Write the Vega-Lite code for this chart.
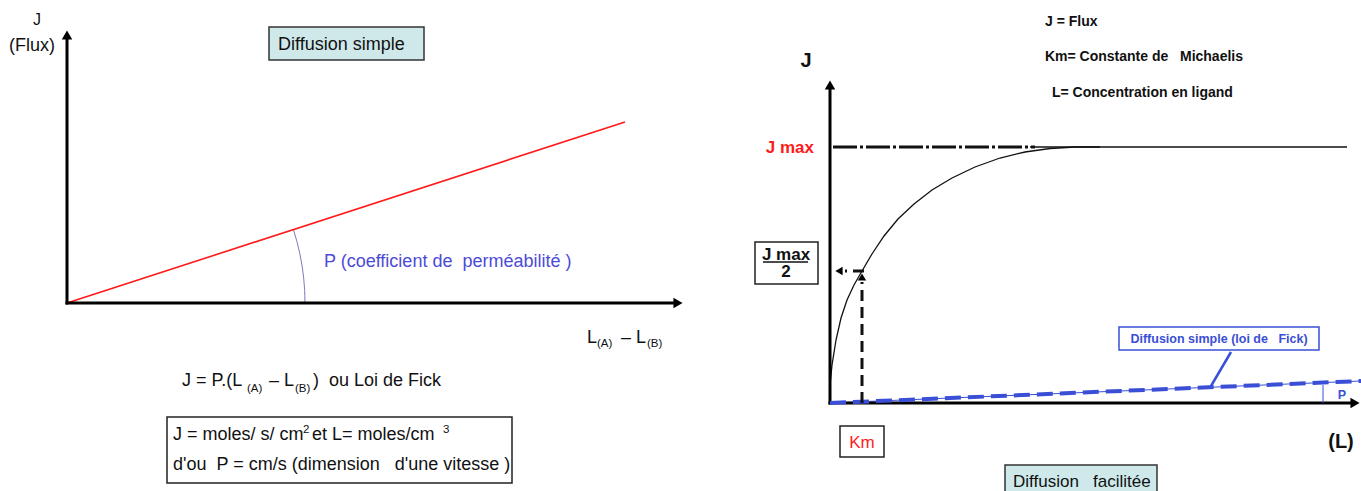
{
  "$schema": "https://vega.github.io/schema/vega-lite/v6.json",
  "width": 1361,
  "height": 491,
  "autosize": "none",
  "padding": 0,
  "background": "white",
  "config": {"view": {"stroke": null}, "text": {"font": "Liberation Sans"}},
  "datasets": {
    "segments": [
      {"kind": "axis", "x": 67, "y": 304.5, "x2": 67, "y2": 38},
      {"kind": "axis", "x": 65.5, "y": 303, "x2": 676, "y2": 303},
      {"kind": "axis", "x": 830, "y": 404.5, "x2": 830, "y2": 88},
      {"kind": "axis", "x": 828.5, "y": 403, "x2": 1352, "y2": 403},
      {"kind": "red", "x": 67, "y": 303, "x2": 625, "y2": 122},
      {"kind": "jmaxSolid", "x": 1030, "y": 147, "x2": 1347, "y2": 147},
      {"kind": "jmaxDash", "x": 833, "y": 147, "x2": 1035, "y2": 147},
      {"kind": "kmDash", "x": 862, "y": 403, "x2": 862, "y2": 282},
      {"kind": "halfDash", "x": 864, "y": 271, "x2": 845, "y2": 271},
      {"kind": "fickThin", "x": 830, "y": 403, "x2": 1361, "y2": 381},
      {"kind": "fickDash", "x": 830, "y": 403, "x2": 1361, "y2": 381},
      {"kind": "fickPointer", "x": 1231, "y": 352, "x2": 1211, "y2": 386},
      {"kind": "pTick", "x": 1323, "y": 385, "x2": 1323, "y2": 403},
      {"kind": "underline", "x": 763, "y": 262, "x2": 808, "y2": 262}
    ],
    "heads": [
      {"kind": "up", "x": 67, "y": 35},
      {"kind": "right", "x": 678, "y": 303},
      {"kind": "up", "x": 830, "y": 85},
      {"kind": "right", "x": 1355, "y": 403},
      {"kind": "upSmall", "x": 862, "y": 277},
      {"kind": "leftSmall", "x": 839, "y": 271}
    ],
    "boxes": [
      {"kind": "cyan", "x": 269, "y": 27, "x2": 424, "y2": 60},
      {"kind": "cyan", "x": 1005, "y": 465, "x2": 1157, "y2": 500},
      {"kind": "white", "x": 167, "y": 417, "x2": 512, "y2": 483},
      {"kind": "white", "x": 755, "y": 242, "x2": 818, "y2": 284},
      {"kind": "white", "x": 840, "y": 426, "x2": 884, "y2": 457},
      {"kind": "blue", "x": 1119, "y": 327, "x2": 1319, "y2": 350}
    ],
    "curves": [
      {"id": "arc", "i": 0, "x": 305, "y": 303},
      {"id": "arc", "i": 1, "x": 304.7, "y": 290.5},
      {"id": "arc", "i": 2, "x": 303.7, "y": 278.1},
      {"id": "arc", "i": 3, "x": 302.1, "y": 265.8},
      {"id": "arc", "i": 4, "x": 299.8, "y": 253.5},
      {"id": "arc", "i": 5, "x": 296.9, "y": 241.4},
      {"id": "arc", "i": 6, "x": 293.4, "y": 229.5},
      {"id": "mm", "i": 0, "x": 830, "y": 385},
      {"id": "mm", "i": 1, "x": 832, "y": 365},
      {"id": "mm", "i": 2, "x": 836, "y": 340},
      {"id": "mm", "i": 3, "x": 841, "y": 318},
      {"id": "mm", "i": 4, "x": 847, "y": 300},
      {"id": "mm", "i": 5, "x": 854, "y": 285},
      {"id": "mm", "i": 6, "x": 862, "y": 271},
      {"id": "mm", "i": 7, "x": 872, "y": 254},
      {"id": "mm", "i": 8, "x": 884, "y": 236},
      {"id": "mm", "i": 9, "x": 898, "y": 219},
      {"id": "mm", "i": 10, "x": 914, "y": 204},
      {"id": "mm", "i": 11, "x": 932, "y": 190},
      {"id": "mm", "i": 12, "x": 952, "y": 178},
      {"id": "mm", "i": 13, "x": 975, "y": 167},
      {"id": "mm", "i": 14, "x": 1000, "y": 158},
      {"id": "mm", "i": 15, "x": 1025, "y": 152},
      {"id": "mm", "i": 16, "x": 1050, "y": 148.5},
      {"id": "mm", "i": 17, "x": 1075, "y": 147},
      {"id": "mm", "i": 18, "x": 1100, "y": 147}
    ],
    "texts": [
      {"kind": "plain", "label": "(Flux)", "x": 9, "y": 51},
      {"kind": "plain", "label": "Diffusion simple", "x": 278, "y": 50},
      {"kind": "plain", "label": "L", "x": 587, "y": 343},
      {"kind": "plain", "label": "– L", "x": 621, "y": 343},
      {"kind": "plain", "label": "J = P.(L", "x": 182, "y": 386},
      {"kind": "plain", "label": "– L", "x": 269, "y": 386},
      {"kind": "plain", "label": ")\u00a0 ou Loi de Fick", "x": 313, "y": 386},
      {"kind": "plain", "label": "J = moles/ s/ cm", "x": 173, "y": 440},
      {"kind": "plain", "label": "et L= moles/cm", "x": 312, "y": 440},
      {"kind": "plain", "label": "d'ou\u00a0 P = cm/s (dimension\u00a0\u00a0 d'une vitesse )", "x": 173, "y": 470},
      {"kind": "facil", "label": "Diffusion\u00a0\u00a0 facilitée", "x": 1013, "y": 487},
      {"kind": "j", "label": "J", "x": 33, "y": 25},
      {"kind": "small", "label": "(A)", "x": 597, "y": 347},
      {"kind": "small", "label": "(B)", "x": 647, "y": 347},
      {"kind": "small", "label": "(A)", "x": 247, "y": 392},
      {"kind": "small", "label": "(B)", "x": 295, "y": 392},
      {"kind": "small", "label": "2", "x": 303, "y": 433},
      {"kind": "small", "label": "3", "x": 443, "y": 433},
      {"kind": "blue", "label": "P (coefficient de\u00a0 perméabilité )", "x": 324, "y": 267},
      {"kind": "boldSmall", "label": "J = Flux", "x": 1045, "y": 26},
      {"kind": "boldSmall", "label": "Km= Constante de\u00a0\u00a0 Michaelis", "x": 1045, "y": 61},
      {"kind": "boldSmall", "label": "L= Concentration en ligand", "x": 1052, "y": 97},
      {"kind": "boldBig", "label": "J", "x": 806, "y": 67},
      {"kind": "boldBig", "label": "(L)", "x": 1341, "y": 448},
      {"kind": "redBold", "label": "J max", "x": 814, "y": 153},
      {"kind": "half", "label": "J max", "x": 786, "y": 260},
      {"kind": "half", "label": "2", "x": 786, "y": 277},
      {"kind": "km", "label": "Km", "x": 862, "y": 448},
      {"kind": "fick", "label": "Diffusion simple (loi de\u00a0\u00a0 Fick)", "x": 1219, "y": 343},
      {"kind": "fick", "label": "P", "x": 1342, "y": 399}
    ]
  },
  "encoding": {
    "x": {"field": "x", "type": "quantitative", "scale": {"domain": [0, 1361], "nice": false, "zero": false}, "axis": null},
    "y": {"field": "y", "type": "quantitative", "scale": {"domain": [0, 491], "nice": false, "zero": false, "reverse": true}, "axis": null}
  },
  "layer": [
    {
      "data": {"name": "boxes"},
      "transform": [{"filter": "datum.kind === 'cyan'"}],
      "mark": {"type": "rect", "fill": "#cfe9ea", "stroke": "#333333", "strokeWidth": 1.5},
      "encoding": {"x2": {"field": "x2"}, "y2": {"field": "y2"}}
    },
    {
      "data": {"name": "boxes"},
      "transform": [{"filter": "datum.kind === 'white'"}],
      "mark": {"type": "rect", "fill": "white", "stroke": "#222222", "strokeWidth": 1.5},
      "encoding": {"x2": {"field": "x2"}, "y2": {"field": "y2"}}
    },
    {
      "data": {"name": "boxes"},
      "transform": [{"filter": "datum.kind === 'blue'"}],
      "mark": {"type": "rect", "fill": "white", "stroke": "#3a4fd6", "strokeWidth": 1.5},
      "encoding": {"x2": {"field": "x2"}, "y2": {"field": "y2"}}
    },
    {
      "data": {"name": "curves"},
      "transform": [{"filter": "datum.id === 'arc'"}],
      "mark": {"type": "line", "color": "#7b7bb8", "strokeWidth": 1},
      "encoding": {"order": {"field": "i", "type": "quantitative"}}
    },
    {
      "data": {"name": "curves"},
      "transform": [{"filter": "datum.id === 'mm'"}],
      "mark": {"type": "line", "color": "#111111", "strokeWidth": 1.3},
      "encoding": {"order": {"field": "i", "type": "quantitative"}}
    },
    {
      "data": {"name": "segments"},
      "transform": [{"filter": "datum.kind === 'red'"}],
      "mark": {"type": "rule", "color": "#ff1a1a", "strokeWidth": 1.6},
      "encoding": {"x2": {"field": "x2"}, "y2": {"field": "y2"}}
    },
    {
      "data": {"name": "segments"},
      "transform": [{"filter": "datum.kind === 'fickThin'"}],
      "mark": {"type": "rule", "color": "#3a4fd6", "strokeWidth": 1},
      "encoding": {"x2": {"field": "x2"}, "y2": {"field": "y2"}}
    },
    {
      "data": {"name": "segments"},
      "transform": [{"filter": "datum.kind === 'axis'"}],
      "mark": {"type": "rule", "color": "black", "strokeWidth": 3},
      "encoding": {"x2": {"field": "x2"}, "y2": {"field": "y2"}}
    },
    {
      "data": {"name": "segments"},
      "transform": [{"filter": "datum.kind === 'fickDash'"}],
      "mark": {"type": "rule", "color": "#3a4fd6", "strokeWidth": 4, "strokeDash": [16, 7]},
      "encoding": {"x2": {"field": "x2"}, "y2": {"field": "y2"}}
    },
    {
      "data": {"name": "segments"},
      "transform": [{"filter": "datum.kind === 'fickPointer'"}],
      "mark": {"type": "rule", "color": "#3a4fd6", "strokeWidth": 2.5},
      "encoding": {"x2": {"field": "x2"}, "y2": {"field": "y2"}}
    },
    {
      "data": {"name": "segments"},
      "transform": [{"filter": "datum.kind === 'pTick'"}],
      "mark": {"type": "rule", "color": "#3a4fd6", "strokeWidth": 1},
      "encoding": {"x2": {"field": "x2"}, "y2": {"field": "y2"}}
    },
    {
      "data": {"name": "segments"},
      "transform": [{"filter": "datum.kind === 'jmaxSolid'"}],
      "mark": {"type": "rule", "color": "#111111", "strokeWidth": 1.5},
      "encoding": {"x2": {"field": "x2"}, "y2": {"field": "y2"}}
    },
    {
      "data": {"name": "segments"},
      "transform": [{"filter": "datum.kind === 'jmaxDash'"}],
      "mark": {"type": "rule", "color": "#111111", "strokeWidth": 3, "strokeDash": [24, 3, 3, 3]},
      "encoding": {"x2": {"field": "x2"}, "y2": {"field": "y2"}}
    },
    {
      "data": {"name": "segments"},
      "transform": [{"filter": "datum.kind === 'kmDash' || datum.kind === 'halfDash'"}],
      "mark": {"type": "rule", "color": "#111111", "strokeWidth": 3, "strokeDash": [11, 6]},
      "encoding": {"x2": {"field": "x2"}, "y2": {"field": "y2"}}
    },
    {
      "data": {"name": "segments"},
      "transform": [{"filter": "datum.kind === 'underline'"}],
      "mark": {"type": "rule", "color": "#111111", "strokeWidth": 1.5},
      "encoding": {"x2": {"field": "x2"}, "y2": {"field": "y2"}}
    },
    {
      "data": {"name": "heads"},
      "transform": [{"filter": "datum.kind === 'up'"}],
      "mark": {"type": "point", "shape": "triangle-up", "filled": true, "color": "black", "opacity": 1, "size": 110}
    },
    {
      "data": {"name": "heads"},
      "transform": [{"filter": "datum.kind === 'right'"}],
      "mark": {"type": "point", "shape": "triangle-right", "filled": true, "color": "black", "opacity": 1, "size": 110}
    },
    {
      "data": {"name": "heads"},
      "transform": [{"filter": "datum.kind === 'upSmall'"}],
      "mark": {"type": "point", "shape": "triangle-up", "filled": true, "color": "black", "opacity": 1, "size": 70}
    },
    {
      "data": {"name": "heads"},
      "transform": [{"filter": "datum.kind === 'leftSmall'"}],
      "mark": {"type": "point", "shape": "triangle-left", "filled": true, "color": "black", "opacity": 1, "size": 70}
    },
    {
      "data": {"name": "texts"},
      "transform": [{"filter": "datum.kind === 'plain'"}],
      "mark": {"type": "text", "align": "left", "baseline": "alphabetic", "fontSize": 18, "color": "#111111"},
      "encoding": {"text": {"field": "label"}}
    },
    {
      "data": {"name": "texts"},
      "transform": [{"filter": "datum.kind === 'facil'"}],
      "mark": {"type": "text", "align": "left", "baseline": "alphabetic", "fontSize": 17, "color": "#111111"},
      "encoding": {"text": {"field": "label"}}
    },
    {
      "data": {"name": "texts"},
      "transform": [{"filter": "datum.kind === 'j'"}],
      "mark": {"type": "text", "align": "left", "baseline": "alphabetic", "fontSize": 16, "color": "#111111"},
      "encoding": {"text": {"field": "label"}}
    },
    {
      "data": {"name": "texts"},
      "transform": [{"filter": "datum.kind === 'small'"}],
      "mark": {"type": "text", "align": "left", "baseline": "alphabetic", "fontSize": 11.5, "color": "#111111"},
      "encoding": {"text": {"field": "label"}}
    },
    {
      "data": {"name": "texts"},
      "transform": [{"filter": "datum.kind === 'blue'"}],
      "mark": {"type": "text", "align": "left", "baseline": "alphabetic", "fontSize": 18, "color": "#4b4bd8"},
      "encoding": {"text": {"field": "label"}}
    },
    {
      "data": {"name": "texts"},
      "transform": [{"filter": "datum.kind === 'boldSmall'"}],
      "mark": {"type": "text", "align": "left", "baseline": "alphabetic", "fontSize": 14, "fontWeight": "bold", "color": "#111111"},
      "encoding": {"text": {"field": "label"}}
    },
    {
      "data": {"name": "texts"},
      "transform": [{"filter": "datum.kind === 'boldBig'"}],
      "mark": {"type": "text", "align": "center", "baseline": "alphabetic", "fontSize": 20, "fontWeight": "bold", "color": "#111111"},
      "encoding": {"text": {"field": "label"}}
    },
    {
      "data": {"name": "texts"},
      "transform": [{"filter": "datum.kind === 'redBold'"}],
      "mark": {"type": "text", "align": "right", "baseline": "alphabetic", "fontSize": 17, "fontWeight": "bold", "color": "#ff1a1a"},
      "encoding": {"text": {"field": "label"}}
    },
    {
      "data": {"name": "texts"},
      "transform": [{"filter": "datum.kind === 'half'"}],
      "mark": {"type": "text", "align": "center", "baseline": "alphabetic", "fontSize": 17, "fontWeight": "bold", "color": "#111111"},
      "encoding": {"text": {"field": "label"}}
    },
    {
      "data": {"name": "texts"},
      "transform": [{"filter": "datum.kind === 'km'"}],
      "mark": {"type": "text", "align": "center", "baseline": "alphabetic", "fontSize": 17, "color": "#ff1a1a"},
      "encoding": {"text": {"field": "label"}}
    },
    {
      "data": {"name": "texts"},
      "transform": [{"filter": "datum.kind === 'fick'"}],
      "mark": {"type": "text", "align": "center", "baseline": "alphabetic", "fontSize": 12.5, "fontWeight": "bold", "color": "#3a4fd6"},
      "encoding": {"text": {"field": "label"}}
    }
  ]
}
